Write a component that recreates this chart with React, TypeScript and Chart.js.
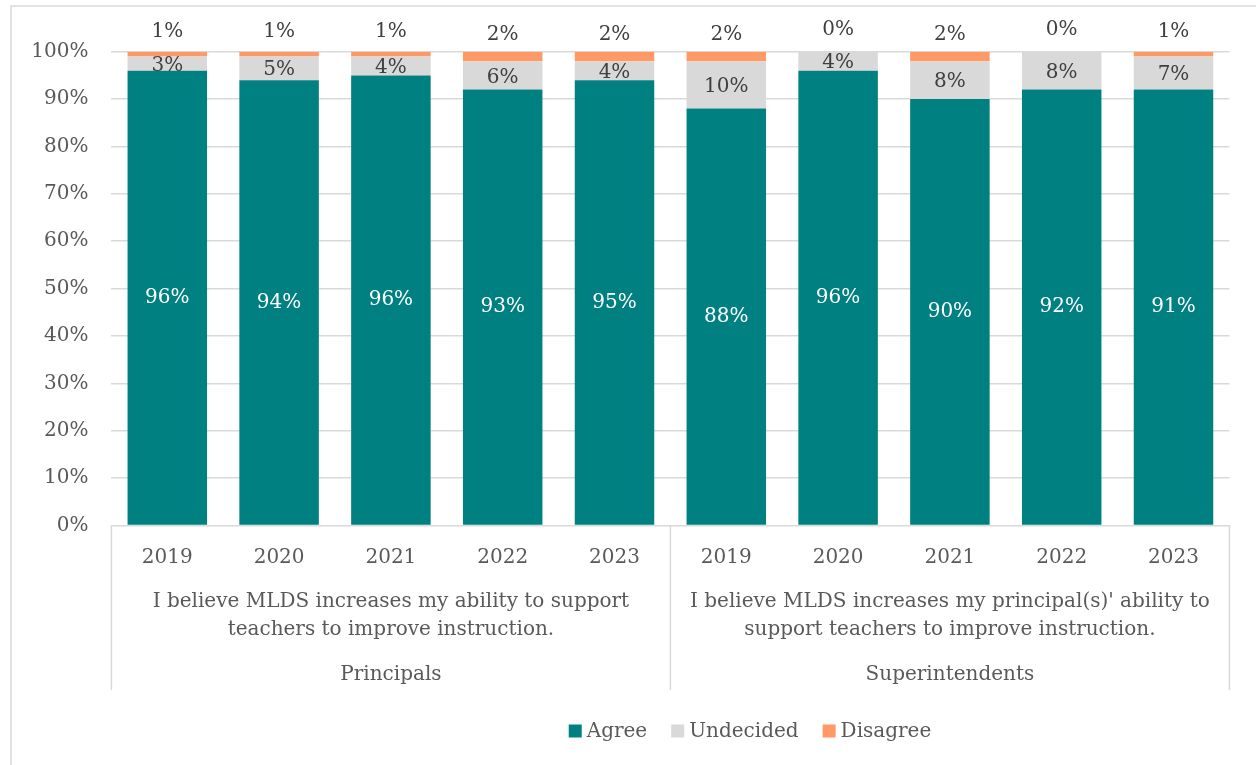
import React, { useEffect, useRef } from "react";
import { Chart, registerables } from "chart.js";

Chart.register(...registerables);

const years = ["2019", "2020", "2021", "2022", "2023", "2019", "2020", "2021", "2022", "2023"];
const groupQuestions = [
  ["I believe MLDS increases my ability to support", "teachers to improve instruction."],
  ["I believe MLDS increases my principal(s)' ability to", "support teachers to improve instruction."],
];
const groupNames = ["Principals", "Superintendents"];
const groupSizes = [5, 5];
const agree = [96, 94, 95, 92, 94, 88, 96, 90, 92, 92];
const undecided = [3, 5, 4, 6, 4, 10, 4, 8, 8, 7];
const disagree = [1, 1, 1, 2, 2, 2, 0, 2, 0, 1];
const agreeLabels = ["96%", "94%", "96%", "93%", "95%", "88%", "96%", "90%", "92%", "91%"];
const undecidedLabels = ["3%", "5%", "4%", "6%", "4%", "10%", "4%", "8%", "8%", "7%"];
const disagreeLabels = ["1%", "1%", "1%", "2%", "2%", "2%", "0%", "2%", "0%", "1%"];
const seriesNames = ["Agree", "Undecided", "Disagree"];
const seriesColors = ["#008080", "#D9D9D9", "#FF9966"];

const FONT = "'DejaVu Serif', serif";
const AXIS_COLOR = "#595959";
const LABEL_COLOR = "#404040";
const GRID = "#D9D9D9";

const overlay = {
  id: "overlay",
  afterDraw(chart: any) {
    const ctx = chart.ctx;
    const x = chart.scales.x;
    const area = chart.chartArea;
    const n = years.length;
    const cw = (x.right - x.left) / n;
    ctx.save();

    // outer frame
    ctx.strokeStyle = GRID;
    ctx.lineWidth = 1.5;
    ctx.beginPath();
    ctx.moveTo(11, chart.height);
    ctx.lineTo(11, 6);
    ctx.lineTo(chart.width, 6);
    ctx.stroke();

    // group separators and labels
    const sepBottom = 690;
    let start = 0;
    const bounds: number[] = [x.left];
    groupSizes.forEach((s) => {
      start += s;
      bounds.push(x.left + start * cw);
    });
    ctx.strokeStyle = GRID;
    ctx.lineWidth = 1.5;
    bounds.forEach((bx) => {
      ctx.beginPath();
      ctx.moveTo(bx, area.bottom);
      ctx.lineTo(bx, sepBottom);
      ctx.stroke();
    });
    ctx.fillStyle = AXIS_COLOR;
    ctx.font = `20px ${FONT}`;
    ctx.textAlign = "center";
    ctx.textBaseline = "middle";
    for (let g = 0; g < groupNames.length; g++) {
      const cx = (bounds[g] + bounds[g + 1]) / 2;
      groupQuestions[g].forEach((line, i) => {
        ctx.fillText(line, cx, 602 + i * 28);
      });
      ctx.fillText(groupNames[g], cx, 675);
    }

    // data labels
    const labelSets = [agreeLabels, undecidedLabels, disagreeLabels];
    chart.data.datasets.forEach((ds: any, di: number) => {
      const meta = chart.getDatasetMeta(di);
      meta.data.forEach((bar: any, i: number) => {
        const cy = (bar.y + bar.base) / 2;
        if (di === 0) {
          ctx.fillStyle = "#FFFFFF";
          ctx.fillText(labelSets[di][i], bar.x, cy);
        } else if (di === 1) {
          ctx.fillStyle = LABEL_COLOR;
          ctx.fillText(labelSets[di][i], bar.x, cy + 2);
        } else {
          ctx.fillStyle = LABEL_COLOR;
          ctx.fillText(labelSets[di][i], bar.x, cy - 22);
        }
      });
    });

    // legend
    ctx.font = `20px ${FONT}`;
    const box = 13;
    const gapBoxText = 5;
    const gapItems = 24;
    const widths = seriesNames.map((s) => box + gapBoxText + ctx.measureText(s).width);
    const total = widths.reduce((a, b) => a + b, 0) + gapItems * (seriesNames.length - 1);
    let lx = 750 - total / 2;
    const ly = 731;
    ctx.textAlign = "left";
    seriesNames.forEach((s, i) => {
      ctx.fillStyle = seriesColors[i];
      ctx.fillRect(lx, ly - box / 2, box, box);
      ctx.fillStyle = AXIS_COLOR;
      ctx.fillText(s, lx + box + gapBoxText, ly + 1);
      lx += widths[i] + gapItems;
    });

    ctx.restore();
  },
};

export default function App() {
  const ref = useRef<HTMLCanvasElement | null>(null);
  useEffect(() => {
    if (!ref.current) return;
    const values = [agree, undecided, disagree];
    const chart = new Chart(ref.current, {
      type: "bar",
      data: {
        labels: years,
        datasets: seriesNames.map((name, i) => ({
          label: name,
          data: values[i],
          backgroundColor: seriesColors[i],
          borderWidth: 0,
          categoryPercentage: 1,
          barPercentage: 0.711,
        })),
      },
      options: {
        responsive: false,
        animation: false,
        layout: { padding: { left: 0, right: 26.6, top: 51.7, bottom: 0 } },
        plugins: { legend: { display: false }, tooltip: { enabled: false } },
        scales: {
          x: {
            stacked: true,
            grid: { display: false, drawTicks: false },
            border: { display: false },
            ticks: {
              color: AXIS_COLOR,
              font: { family: FONT, size: 20 },
              padding: 20,
              maxRotation: 0,
              autoSkip: false,
            },
            afterFit: (s: any) => {
              s.height = 765 - 525.5;
            },
          },
          y: {
            stacked: true,
            min: 0,
            max: 100,
            grid: { color: GRID, lineWidth: 1.5, drawTicks: false },
            border: { display: false },
            ticks: {
              stepSize: 10,
              color: AXIS_COLOR,
              font: { family: FONT, size: 20 },
              padding: 23,
              callback: (v: any) => `${v}%`,
            },
            afterFit: (s: any) => {
              s.width = 111.4;
            },
          },
        },
      },
      plugins: [overlay],
    });
    return () => chart.destroy();
  }, []);
  return (
    <div style={{ position: "absolute", left: 0, top: 0, width: 1256, height: 765, background: "#fff" }}>
      <canvas ref={ref} width={1256} height={765} />
    </div>
  );
}
